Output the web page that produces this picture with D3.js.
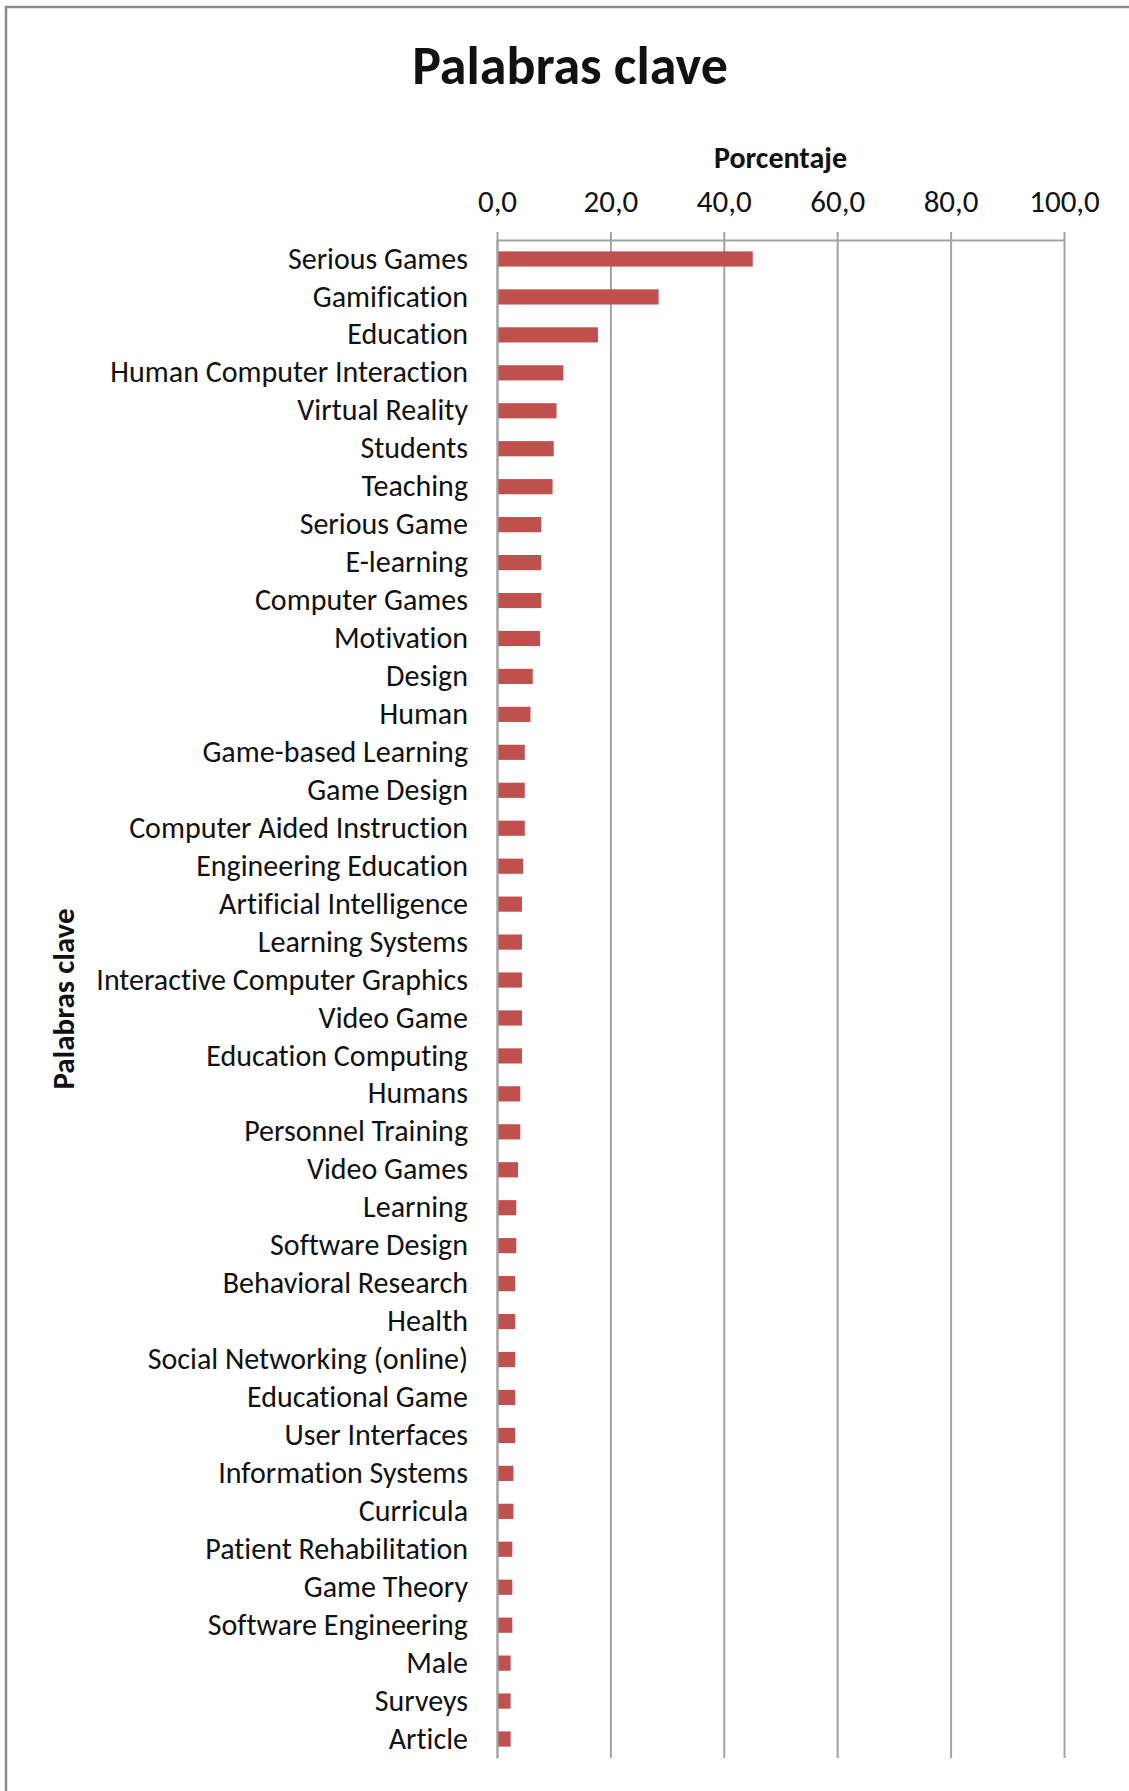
<!DOCTYPE html>
<html>
<head>
<meta charset="utf-8">
<script src="https://cdn.jsdelivr.net/npm/d3@7"></script>
<style>
  body { margin: 0; background: #fff; }
  svg { display: block; }
  text { font-family: Carlito, Lato, "Open Sans", sans-serif; fill: #111; font-variant-ligatures: none; }
</style>
</head>
<body>
<svg id="chart" width="1129" height="1791"></svg>
<script>
// Keyword share (%) across the reviewed papers
const categories = [
  "Serious Games", "Gamification", "Education", "Human Computer Interaction",
  "Virtual Reality", "Students", "Teaching", "Serious Game", "E-learning",
  "Computer Games", "Motivation", "Design", "Human", "Game-based Learning",
  "Game Design", "Computer Aided Instruction", "Engineering Education",
  "Artificial Intelligence", "Learning Systems", "Interactive Computer Graphics",
  "Video Game", "Education Computing", "Humans", "Personnel Training",
  "Video Games", "Learning", "Software Design", "Behavioral Research", "Health",
  "Social Networking (online)", "Educational Game", "User Interfaces",
  "Information Systems", "Curricula", "Patient Rehabilitation", "Game Theory",
  "Software Engineering", "Male", "Surveys", "Article"
];
const values = [
  45.1, 28.5, 17.8, 11.7, 10.5, 10.0, 9.8, 7.8, 7.8, 7.8,
  7.6, 6.3, 5.9, 4.9, 4.9, 4.9, 4.6, 4.4, 4.4, 4.4,
  4.4, 4.4, 4.1, 4.1, 3.7, 3.4, 3.4, 3.2, 3.2, 3.2,
  3.2, 3.2, 2.9, 2.9, 2.7, 2.7, 2.7, 2.4, 2.4, 2.4
];
const tickValues = [0, 20, 40, 60, 80, 100];
const chartTitle = "Palabras clave";
const xTitle = "Porcentaje";
const yTitle = "Palabras clave";

const svg = d3.select("#chart");
const plot = { left: 497, right: 1064, top: 240, bottom: 1758 };

// Spanish number format: comma as decimal separator
const esLocale = d3.formatLocale({ decimal: ",", thousands: ".", grouping: [3], currency: ["", " €"] });
const fmt = esLocale.format(".1f");

const x = d3.scaleLinear().domain([0, 100]).range([plot.left, plot.right]);
const y = d3.scaleBand().domain(categories).range([plot.top, plot.bottom])
  .paddingInner(0.6).paddingOuter(0.3);

// Chart frame
svg.append("rect")
  .attr("x", 6).attr("y", 7).attr("width", 1200).attr("height", 1900)
  .attr("fill", "none").attr("stroke", "#8c8c8c").attr("stroke-width", 2.5);

// Vertical gridlines
svg.append("g")
  .attr("transform", `translate(0,${plot.top})`)
  .call(d3.axisTop(x).tickValues(tickValues).tickSize(-(plot.bottom - plot.top)).tickFormat(""))
  .call(g => g.select(".domain").remove())
  .call(g => g.selectAll(".tick line").attr("stroke", "#a3a3a3").attr("stroke-width", 2));

// Value axis along the top
svg.append("g")
  .attr("transform", `translate(0,${plot.top})`)
  .call(d3.axisTop(x).tickValues(tickValues).tickSize(8).tickSizeOuter(0).tickPadding(20).tickFormat(fmt))
  .call(g => g.select(".domain").attr("stroke", "#a3a3a3").attr("stroke-width", 2))
  .call(g => g.selectAll(".tick line").attr("stroke", "#a3a3a3").attr("stroke-width", 2))
  .call(g => g.selectAll(".tick text")
    .attr("font-size", 31).attr("fill", "#111").attr("font-family", null));

// Bars
svg.append("g").selectAll("rect")
  .data(values)
  .join("rect")
  .attr("x", x(0))
  .attr("y", (d, i) => y(categories[i]))
  .attr("width", d => x(d) - x(0))
  .attr("height", y.bandwidth())
  .attr("fill", "#c0504d");

// Category axis
svg.append("g")
  .attr("transform", `translate(${plot.left},0)`)
  .call(d3.axisLeft(y).tickSize(0).tickPadding(29))
  .call(g => g.select(".domain").attr("stroke", "#a3a3a3").attr("stroke-width", 2))
  .call(g => g.selectAll(".tick text")
    .attr("font-size", 30).attr("fill", "#111").attr("font-family", null));

// Titles
svg.append("text")
  .attr("x", 570).attr("y", 84)
  .attr("text-anchor", "middle")
  .attr("font-size", 54).attr("font-weight", "bold").attr("fill", "#000")
  .text(chartTitle);

svg.append("text")
  .attr("x", (plot.left + plot.right) / 2).attr("y", 168)
  .attr("text-anchor", "middle")
  .attr("font-size", 30).attr("font-weight", "bold").attr("fill", "#000")
  .text(xTitle);

svg.append("text")
  .attr("transform", `translate(74,${(plot.top + plot.bottom) / 2}) rotate(-90)`)
  .attr("text-anchor", "middle")
  .attr("font-size", 31).attr("font-weight", "bold").attr("fill", "#000")
  .text(yTitle);
</script>
</body>
</html>
